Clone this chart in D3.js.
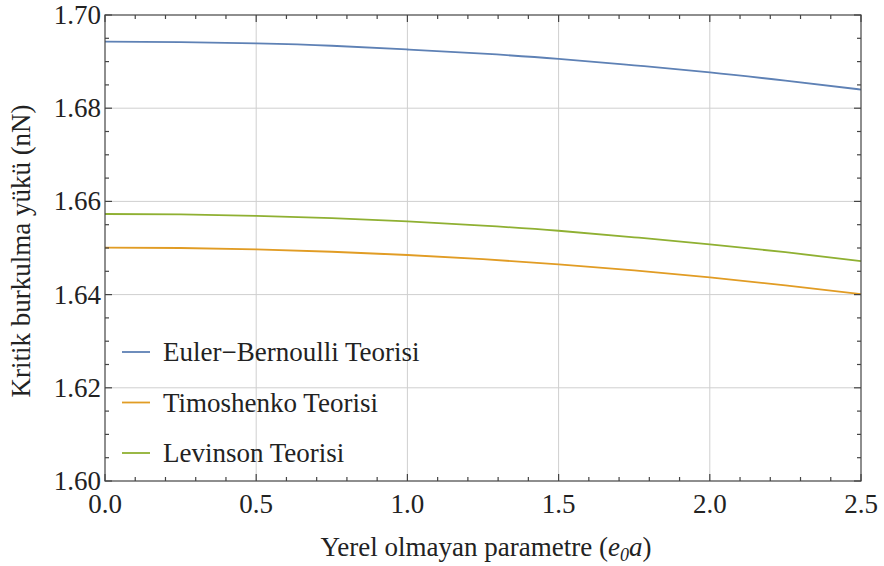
<!DOCTYPE html>
<html><head><meta charset="utf-8">
<script src="https://cdn.jsdelivr.net/npm/d3@7"></script>
<style>body{margin:0;background:#fff}svg{display:block}</style>
</head><body><svg id="c" width="884" height="566"></svg>
<script>
const xs = [0, 0.25, 0.5, 0.75, 1.0, 1.25, 1.5, 1.75, 2.0, 2.25, 2.5];
const eulerVals = [1.6943, 1.6942, 1.6939, 1.6934, 1.6926, 1.6917, 1.6906, 1.6892, 1.6877, 1.6859, 1.6840];
const timoVals  = [1.6501, 1.6500, 1.6497, 1.6492, 1.6485, 1.6476, 1.6465, 1.6452, 1.6437, 1.6420, 1.6401];
const levVals   = [1.6573, 1.6572, 1.6569, 1.6564, 1.6557, 1.6548, 1.6537, 1.6523, 1.6508, 1.6491, 1.6472];
const seriesNames = ["Euler\u2212Bernoulli Teorisi", "Timoshenko Teorisi", "Levinson Teorisi"];
const seriesColors = ["#5E81B5", "#E19C24", "#8FB032"];
const xTicks = [0, 0.5, 1.0, 1.5, 2.0, 2.5];
const yTicks = [1.60, 1.62, 1.64, 1.66, 1.68, 1.70];

const fontName = "Liberation Serif";
const svg = d3.select("#c");
const L = 105, R = 861, T = 15, B = 481;
const x = d3.scaleLinear().domain([0, 2.5]).range([L, R]);
const y = d3.scaleLinear().domain([1.60, 1.70]).range([B, T]);
const fs = 27;
const tc = "#222";
function txt(sel) { return sel.style("font-family", `"${fontName}"`).attr("font-size", fs).attr("fill", tc); }

svg.append("g").selectAll("line").data(xTicks.slice(1, -1)).join("line")
  .attr("x1", d => x(d)).attr("x2", d => x(d)).attr("y1", T).attr("y2", B)
  .attr("stroke", "#cfcfcf").attr("stroke-width", 1);
svg.append("g").selectAll("line").data(yTicks.slice(1, -1)).join("line")
  .attr("y1", d => y(d)).attr("y2", d => y(d)).attr("x1", L).attr("x2", R)
  .attr("stroke", "#cfcfcf").attr("stroke-width", 1);

const all = [eulerVals, timoVals, levVals];
const line = d3.line().x((d, i) => x(xs[i])).y(d => y(d)).curve(d3.curveNatural);
all.forEach((vals, k) => {
  svg.append("path").datum(vals).attr("d", line).attr("fill", "none")
    .attr("stroke", seriesColors[k]).attr("stroke-width", 1.8);
});

const minorX = d3.range(0, 2.5001, 0.1);
const minorY = d3.range(1.60, 1.70001, 0.005);
const fr = svg.append("g").attr("stroke", "#444").attr("stroke-width", 1.2);
fr.append("rect").attr("x", L).attr("y", T).attr("width", R - L).attr("height", B - T).attr("fill", "none");
minorX.forEach(v => {
  const major = Math.abs(v * 2 - Math.round(v * 2)) < 1e-6;
  const len = major ? 7 : 4;
  fr.append("line").attr("x1", x(v)).attr("x2", x(v)).attr("y1", B).attr("y2", B - len);
  fr.append("line").attr("x1", x(v)).attr("x2", x(v)).attr("y1", T).attr("y2", T + len);
});
minorY.forEach(v => {
  const major = Math.abs(v * 50 - Math.round(v * 50)) < 1e-6;
  const len = major ? 7 : 4;
  fr.append("line").attr("y1", y(v)).attr("y2", y(v)).attr("x1", L).attr("x2", L + len);
  fr.append("line").attr("y1", y(v)).attr("y2", y(v)).attr("x1", R).attr("x2", R - len);
});

svg.append("g").selectAll("text").data(xTicks).join("text")
  .call(txt).attr("x", d => x(d)).attr("y", 513).attr("text-anchor", "middle").text(d => d.toFixed(1));
svg.append("g").selectAll("text").data(yTicks).join("text")
  .call(txt).attr("x", 101).attr("y", d => y(d) + 9).attr("text-anchor", "end").text(d => d.toFixed(2));

const xt = svg.append("text").call(txt).attr("x", 486).attr("y", 556).attr("text-anchor", "middle");
xt.append("tspan").text("Yerel olmayan parametre (");
xt.append("tspan").attr("font-style", "italic").text("e");
xt.append("tspan").attr("font-style", "italic").attr("font-size", 18).attr("dy", 5).text("0");
xt.append("tspan").attr("font-style", "italic").attr("dy", -5).text("a");
xt.append("tspan").text(")");
svg.append("text").call(txt).attr("transform", "translate(30,251) rotate(-90)").attr("text-anchor", "middle")
  .text("Kritik burkulma yükü (nN)");

const lg = svg.append("g");
seriesNames.forEach((n, k) => {
  const yy = 352 + k * 50.5;
  lg.append("line").attr("x1", 122).attr("x2", 150).attr("y1", yy).attr("y2", yy)
    .attr("stroke", seriesColors[k]).attr("stroke-width", 1.8);
  lg.append("text").call(txt).attr("x", 163).attr("y", yy + 9).text(n);
});
</script></body></html>
